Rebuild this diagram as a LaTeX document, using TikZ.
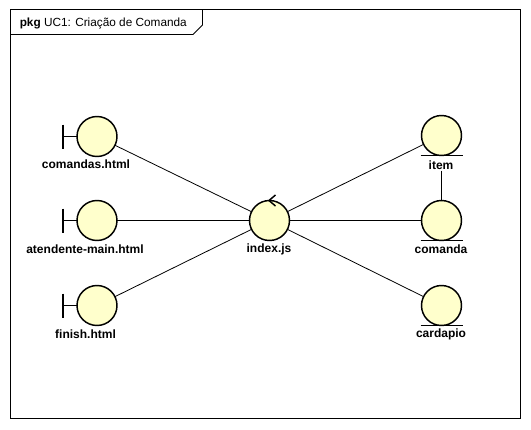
\documentclass[tikz,border=0pt]{standalone}
\usepackage{fontspec}
\setmainfont{Liberation Sans}
\definecolor{umlfill}{RGB}{255,255,204}
\tikzset{
  x=0.75pt,y=-0.75pt,
  ball/.style={circle,draw=black,fill=umlfill,line width=1.1pt,minimum size=30pt,inner sep=0pt,outer sep=0pt},
  lbl/.style={font=\fontsize{9}{10}\selectfont\bfseries,inner sep=0pt,anchor=center},
  tick/.style={line width=1.1pt,black},
  link/.style={line width=0.6pt,black},
  frameline/.style={line width=0.7pt,black}
}
\begin{document}
\begin{tikzpicture}
\useasboundingbox (0,0) rectangle (531,429);
\fill[white] (0,0) rectangle (531,429);
\draw[frameline] (10.5,9.5) rectangle (520.5,418.5);
\node[inner sep=0pt,anchor=west,font=\fontsize{8.85}{10}\selectfont] (title) at (19.5,23) {\textbf{pkg} UC1: Criação de Comanda};
\coordinate (fa) at (10.5,34.5);
\coordinate (fb) at (193,34.5);
\coordinate (fc) at (202.5,25);
\coordinate (fd) at (202.5,9.5);
\draw[frameline] (fa) -- (fb) -- (fc) -- (fd);

\node[ball] (comandas) at (97,136.5) {};
\node[ball] (atendente) at (97,220.5) {};
\node[ball] (finish) at (97,305.5) {};
\node[ball] (index) at (269.5,220.5) {};
\node[ball] (item) at (441.5,135.5) {};
\node[ball] (comanda) at (441.5,220.5) {};
\node[ball] (cardapio) at (441.5,305.5) {};

\node[lbl] (lcomandas) at (86,164) {comandas.html};
\node[lbl] (latendente) at (85,249) {atendente-main.html};
\node[lbl] (lfinish) at (85.5,334.5) {finish.html};
\node[lbl] (lindex) at (269,249) {index.js};
\node[lbl] (litem) at (441,165) {item};
\node[lbl] (lcomanda) at (441,249) {comanda};
\node[lbl] (lcardapio) at (441,334.5) {cardapio};

\foreach \n in {comandas,atendente,finish}{
  \draw[tick] (\n.west) -- ++(-14,0);
  \draw[tick] ([shift={(-14,-12)}]\n.west) -- ++(0,24);
}
\foreach \n in {item,comanda,cardapio}{
  \draw[tick] ([shift={(-21,0)}]\n.south) -- ([shift={(21,0)}]\n.south);
}
\draw[tick] ([shift={(6,-5.5)}]index.north) -- ([shift={(-0.5,0)}]index.north) -- ([shift={(6,5.5)}]index.north);

\draw[link] (comandas) -- (index);
\draw[link] (atendente) -- (index);
\draw[link] (finish) -- (index);
\draw[link] (index) -- (item);
\draw[link] (index) -- (comanda);
\draw[link] (index) -- (cardapio);
\draw[link] (item.south |- litem.south) ++(0,1) -- (comanda);
\end{tikzpicture}
\end{document}
